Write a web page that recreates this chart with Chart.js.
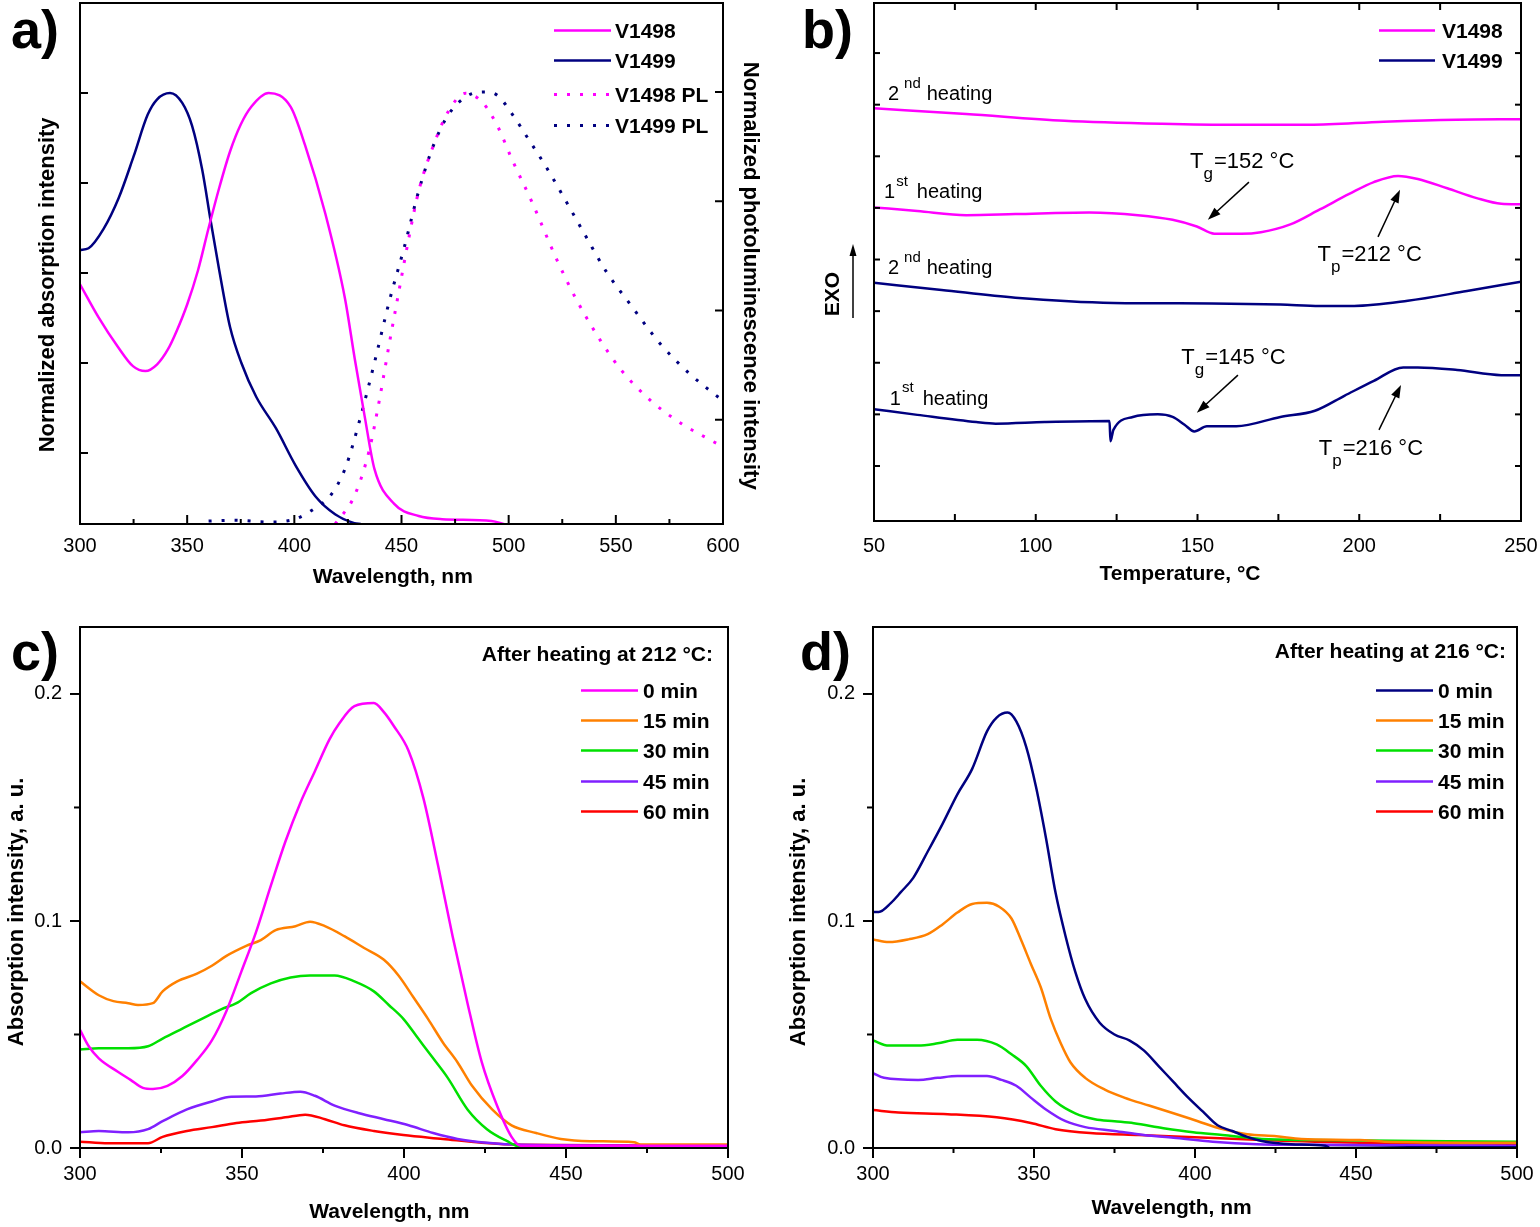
<!DOCTYPE html>
<html>
<head>
<meta charset="utf-8">
<script src="https://cdn.jsdelivr.net/npm/chart.js@4.4.1/dist/chart.umd.min.js"></script>
<style>
  html, body { margin: 0; padding: 0; background: #fff; }
  #wrap { position: relative; width: 1540px; height: 1227px; }
  canvas { position: absolute; }
</style>
</head>
<body>
<div id="wrap">
  <canvas id="pa" width="770" height="610" style="left:0;top:0"></canvas>
  <canvas id="pb" width="770" height="610" style="left:770px;top:0"></canvas>
  <canvas id="pc" width="770" height="617" style="left:0;top:610px"></canvas>
  <canvas id="pd" width="770" height="617" style="left:770px;top:610px"></canvas>
</div>
<script>
// ---- a) absorption + PL spectra (normalized) ----
const absWl1498 = [300, 308.6, 317.8, 324.7, 330.5, 336, 341, 345, 350, 355, 360, 365, 370, 375, 380, 388, 398.3, 405, 414.5, 423.6, 428.2, 432.8, 437.4, 446.6, 458, 469, 492, 498];
const abs1498   = [0.575, 0.502, 0.435, 0.393, 0.382, 0.397, 0.43, 0.47, 0.53, 0.605, 0.70, 0.79, 0.87, 0.93, 0.97, 1.0, 0.969, 0.884, 0.731, 0.544, 0.409, 0.282, 0.164, 0.087, 0.06, 0.053, 0.049, 0.042];
const absWl1499 = [300, 304, 311, 318, 325, 331.6, 336, 342, 347.7, 352.3, 357, 361, 365, 370, 375.3, 382.2, 391.4, 400.6, 409.8, 419, 428, 431];
const abs1499   = [0.651, 0.655, 0.698, 0.766, 0.859, 0.952, 0.986, 1.0, 0.978, 0.927, 0.83, 0.715, 0.605, 0.48, 0.40, 0.325, 0.255, 0.172, 0.104, 0.064, 0.044, 0.042];
const plWl1498  = [419, 428, 435, 439.6, 444.3, 448.9, 453.5, 458, 465, 472, 479.9, 488, 494.8, 501.7, 510.9, 522.4, 531.6, 543, 552.3, 566, 580, 593.6, 600];
const pl1498    = [0.011, 0.0755, 0.181, 0.293, 0.424, 0.547, 0.668, 0.773, 0.879, 0.957, 0.997, 0.975, 0.922, 0.844, 0.748, 0.617, 0.525, 0.43, 0.365, 0.295, 0.243, 0.205, 0.188];
const plWl1499  = [360, 372, 387.8, 400.6, 409.8, 416.7, 423.6, 430.5, 437.4, 444.3, 451.2, 458, 465, 472, 481, 489, 494.8, 501.7, 508.6, 517.8, 527, 536.2, 545.4, 556.9, 570.7, 584.5, 600];
const pl1499    = [0.018, 0.02, 0.016, 0.023, 0.048, 0.0755, 0.137, 0.249, 0.381, 0.521, 0.643, 0.773, 0.879, 0.949, 0.992, 1.0, 0.992, 0.949, 0.897, 0.826, 0.748, 0.668, 0.59, 0.513, 0.424, 0.355, 0.293];
const aMajor = [300, 350, 400, 450, 500, 550, 600];
const aMinor = [325, 375, 425, 475, 525, 575];
const aAbsTicks = [0.2, 0.4, 0.6, 0.8, 1.0];
const aPlTicks = [0.25, 0.5, 0.75, 1.0];

// ---- b) DSC curves (arbitrary heat-flow units) ----
const bT1498h2 = [50, 78.5, 108.9, 139, 162, 184.7, 207.5, 230, 250];
const b1498h2  = [7.93, 7.82, 7.69, 7.63, 7.61, 7.61, 7.67, 7.71, 7.72];
const bT1498h1 = [50, 63.4, 78.5, 93.7, 116.5, 131.6, 142.3, 149.8, 155.2, 163.5, 169.6, 178.7, 187.8, 196.9, 204.5, 212, 218.1, 227.2, 236.3, 243.9, 250];
const b1498h1  = [6.01, 5.94, 5.86, 5.88, 5.91, 5.86, 5.77, 5.64, 5.50, 5.50, 5.53, 5.68, 5.97, 6.27, 6.50, 6.62, 6.56, 6.38, 6.19, 6.08, 6.07];
const bT1499h2 = [50, 70.9, 93.7, 124, 154.4, 175.6, 187.8, 198.4, 215, 233.3, 250];
const b1499h2  = [4.55, 4.41, 4.26, 4.16, 4.15, 4.13, 4.10, 4.10, 4.20, 4.39, 4.57];
const bT1499h1 = [50, 63.4, 81.6, 87.6, 102.8, 122.8, 123.1, 124, 130, 137.7, 142.3, 146, 149, 152.9, 162, 175.6, 186.3, 195.4, 204.5, 213.6, 218.1, 230.3, 243.9, 250];
const b1499h1  = [2.10, 1.99, 1.85, 1.82, 1.85, 1.87, 1.48, 1.70, 1.95, 2.00, 1.95, 1.80, 1.67, 1.77, 1.77, 1.95, 2.07, 2.36, 2.65, 2.91, 2.91, 2.86, 2.76, 2.76];
const bMajor = [50, 100, 150, 200, 250];
const bMinor = [75, 125, 175, 225];
const bYTicks = [1, 2, 3, 4, 5, 6, 7, 8, 9];

// ---- c) V1498 absorption after heating at 212 °C ----
const cWl0  = [300, 302.7, 305.8, 311.8, 315.6, 319.4, 322.5, 327, 331.6, 336.1, 340.7, 345.2, 349.8, 354.3, 359, 363.4, 368, 372.5, 377, 380, 384.7, 390.7, 393.8, 396.8, 401.4, 406, 410.5, 415, 419.6, 424, 428.7, 433.2, 436, 445, 500];
const c0    = [0.052, 0.0448, 0.0395, 0.0335, 0.030, 0.0265, 0.026, 0.0274, 0.0317, 0.0387, 0.0474, 0.0604, 0.0777, 0.095, 0.116, 0.135, 0.152, 0.166, 0.18, 0.187, 0.1946, 0.196, 0.192, 0.186, 0.175, 0.154, 0.1245, 0.0933, 0.0638, 0.0378, 0.0187, 0.0049, 0.001, 0.001, 0.001];
const cWl15 = [300, 305.8, 310.3, 314.9, 317.9, 322.5, 325.5, 330, 336.1, 340.7, 345.2, 351.3, 355.8, 360.4, 366.5, 371, 375.6, 381.6, 387.7, 393.8, 398.3, 402.9, 407.4, 412, 416.5, 421, 427.2, 433.2, 440.8, 448.4, 457.5, 471, 473, 500];
const c15   = [0.0734, 0.0673, 0.0647, 0.0638, 0.063, 0.0638, 0.069, 0.0734, 0.0768, 0.0803, 0.0846, 0.089, 0.0916, 0.096, 0.0977, 0.0997, 0.0977, 0.0933, 0.0881, 0.0829, 0.076, 0.0664, 0.0569, 0.0465, 0.0378, 0.0274, 0.017, 0.01, 0.0066, 0.004, 0.003, 0.0025, 0.0015, 0.0015];
const cWl30 = [300, 305.8, 314.9, 321, 325.5, 331.6, 337.6, 343.7, 348.3, 352.8, 358.9, 365, 371, 378.6, 384.7, 390.7, 395.3, 399.8, 404.4, 409, 413.5, 419.6, 425.6, 431.7, 436.3, 500];
const c30   = [0.0434, 0.0439, 0.0439, 0.0448, 0.0482, 0.0526, 0.0569, 0.0612, 0.0638, 0.0682, 0.0725, 0.0751, 0.076, 0.076, 0.0734, 0.069, 0.063, 0.0569, 0.0482, 0.0395, 0.0309, 0.017, 0.0083, 0.0031, 0.0003, 0.0003];
const cWl45 = [300, 305.8, 314.9, 321, 325.5, 333, 340.7, 346.7, 354.3, 361.9, 368, 372.5, 378.6, 386.2, 393.8, 401.4, 409, 416.5, 425.6, 436.3, 500];
const c45   = [0.0069, 0.0075, 0.0069, 0.0083, 0.0118, 0.017, 0.0205, 0.0226, 0.0227, 0.024, 0.0248, 0.023, 0.0187, 0.0153, 0.0127, 0.01, 0.0066, 0.004, 0.0023, 0.0014, 0.0009];
const cWl60 = [300, 308.8, 321, 325.5, 333, 340.7, 348.3, 355.8, 363.4, 369.5, 375.6, 381.6, 390.7, 399.8, 412, 424, 436.3, 500];
const c60   = [0.0028, 0.0021, 0.0021, 0.0049, 0.0075, 0.0092, 0.011, 0.0121, 0.0135, 0.0147, 0.0127, 0.01, 0.0075, 0.0057, 0.004, 0.0023, 0.0014, 0.001];

// ---- d) V1499 absorption after heating at 216 °C ----
const dWl0  = [300, 301.8, 305.6, 308.7, 312.5, 317, 321.6, 326.2, 330.8, 335.4, 338.4, 341.8, 344.5, 347.6, 350.6, 353.7, 356.7, 359.8, 362.8, 365.9, 370.4, 375, 379.6, 384.1, 388.7, 393.3, 397.9, 402.4, 407, 411.6, 416.2, 420.7, 429.9, 440.5, 442, 466.5, 500];
const d0    = [0.104, 0.104, 0.108, 0.1128, 0.119, 0.1306, 0.1428, 0.1558, 0.167, 0.1835, 0.1896, 0.1918, 0.1879, 0.1766, 0.1592, 0.1367, 0.1124, 0.0933, 0.0777, 0.0656, 0.0552, 0.05, 0.0474, 0.043, 0.0361, 0.0291, 0.0222, 0.0161, 0.01, 0.0075, 0.0049, 0.0031, 0.0017, 0.001, 0.0, 0.0003, 0.0003];
const dWl15 = [300, 304.9, 311, 317, 321.6, 326.2, 330.8, 335.4, 339.2, 343, 346, 349, 352.1, 355.2, 358.2, 361.3, 365.9, 372, 378, 385.7, 393.3, 400.9, 408.5, 416.2, 425.3, 433, 451.2, 458.8, 500];
const d15   = [0.0919, 0.0907, 0.0919, 0.0942, 0.0985, 0.1037, 0.1075, 0.108, 0.1063, 0.1011, 0.0916, 0.0812, 0.0708, 0.0569, 0.0465, 0.0378, 0.0309, 0.0257, 0.0222, 0.0187, 0.0153, 0.0118, 0.0083, 0.0061, 0.0052, 0.004, 0.0035, 0.0028, 0.0023];
const dWl30 = [300, 304.9, 314, 320.1, 326.2, 332.3, 338.4, 343, 347.6, 352.1, 356.7, 362.8, 368.9, 375, 381, 390.2, 399.4, 408.5, 420.7, 436, 500];
const d30   = [0.0474, 0.0451, 0.0451, 0.0461, 0.0477, 0.0477, 0.0456, 0.0413, 0.0361, 0.0274, 0.0205, 0.0153, 0.0127, 0.0118, 0.0109, 0.0087, 0.0069, 0.0057, 0.004, 0.0035, 0.0028];
const dWl45 = [300, 303.4, 314, 320.1, 326.2, 335.4, 339.9, 344.5, 349, 353.7, 359.8, 365.9, 375, 384.1, 393.3, 405.5, 419.2, 436, 500];
const d45   = [0.033, 0.0309, 0.03, 0.0309, 0.0317, 0.0317, 0.03, 0.0274, 0.0222, 0.017, 0.0118, 0.0092, 0.0075, 0.0057, 0.0045, 0.0028, 0.0017, 0.0014, 0.001];
const dWl60 = [300, 307.9, 323.2, 338.4, 349, 356.7, 367.4, 382.6, 397.9, 420.7, 451.2, 500];
const d60   = [0.0167, 0.0156, 0.0149, 0.0135, 0.011, 0.0083, 0.0066, 0.0057, 0.0049, 0.0035, 0.0023, 0.0019];
const cdMajor = [300, 350, 400, 450, 500];
const cdMinor = [325, 375, 425, 475];
const cdYMajor = [0, 0.1, 0.2];
const cdYMinor = [0.05, 0.15];

const FONT = '"Liberation Sans", Arial, Helvetica, sans-serif';
Chart.defaults.font.family = FONT;
Chart.defaults.color = '#000';

const MAGENTA = '#ff00ff', NAVY = '#000080', ORANGE = '#ff8000', GREEN = '#00e000', PURPLE = '#8020ff', RED = '#ff0000';

function pts(xs, ys) { return xs.map((x, i) => ({ x: x, y: ys[i] })); }

function series(label, xs, ys, color, extra) {
  return Object.assign({
    label: label, data: pts(xs, ys), borderColor: color, backgroundColor: color,
    borderWidth: 2.5, pointRadius: 0, fill: false, cubicInterpolationMode: 'monotone'
  }, extra || {});
}

// Origin centres axis titles a bit off the plot centre; nudge with blank padding
const lead = (n, t) => ' '.repeat(n) + t;
const trail = (t, n) => t + ' '.repeat(n);

// fixed axis box sizes so the plot areas land where the figure has them
const fixH = h => s => { s.height = h; s.paddingLeft = 0; s.paddingRight = 0; };
const fixW = w => s => { s.width = w; s.paddingTop = 0; s.paddingBottom = 0; };

// superscript / subscript text
function rich(ctx, x, y, parts, size) {
  const small = Math.round(size * 0.75);
  parts.forEach(([txt, kind, gap]) => {
    x += gap || 0;
    ctx.font = (kind === 'n' ? size : small) + 'px ' + FONT;
    const dy = kind === 'sup' ? -0.62 * size : kind === 'sub' ? 0.5 * size : 0;
    ctx.fillText(txt, x, y + dy);
    x += ctx.measureText(txt).width;
  });
}

function arrow(ctx, x1, y1, x2, y2, L, W) {
  const ang = Math.atan2(y2 - y1, x2 - x1), c = Math.cos(ang), s = Math.sin(ang);
  ctx.beginPath(); ctx.moveTo(x1, y1); ctx.lineTo(x2 - L * 0.8 * c, y2 - L * 0.8 * s); ctx.stroke();
  ctx.beginPath(); ctx.moveTo(x2, y2);
  ctx.lineTo(x2 - L * c + W * s, y2 - L * s - W * c);
  ctx.lineTo(x2 - L * c - W * s, y2 - L * s + W * c);
  ctx.closePath(); ctx.fill();
}

// frame, inward/outward ticks, legend, panel letter and notes
const decor = {
  id: 'decor',
  afterDraw(chart, args, o) {
    const ctx = chart.ctx, a = chart.chartArea;
    ctx.save();
    ctx.strokeStyle = '#000'; ctx.fillStyle = '#000'; ctx.lineWidth = 2;
    ctx.strokeRect(a.left, a.top, a.right - a.left, a.bottom - a.top);
    (o.ticks || []).forEach(t => {
      const s = chart.scales[t.scale], k = t.dir === 'in' ? 1 : -1;
      const mark = (vals, len) => vals.forEach(v => {
        const p = s.getPixelForValue(v);
        ctx.beginPath();
        if (t.side === 'bottom') { ctx.moveTo(p, a.bottom); ctx.lineTo(p, a.bottom - k * len); }
        else if (t.side === 'top') { ctx.moveTo(p, a.top); ctx.lineTo(p, a.top + k * len); }
        else if (t.side === 'left') { ctx.moveTo(a.left, p); ctx.lineTo(a.left + k * len, p); }
        else { ctx.moveTo(a.right, p); ctx.lineTo(a.right - k * len, p); }
        ctx.stroke();
      });
      mark(t.major, t.len);
      mark(t.minor || [], t.minorLen);
    });

    const lg = o.legend;
    if (lg) {
      ctx.font = 'bold 21px ' + FONT; ctx.textBaseline = 'alphabetic';
      if (lg.title) { ctx.textAlign = 'right'; ctx.fillText(lg.title, lg.titleX, lg.titleY); }
      ctx.textAlign = 'left';
      (lg.items || chart.data.datasets.map((d, i) => i)).forEach((di, r) => {
        const d = chart.data.datasets[di], y = lg.rows[r];
        ctx.strokeStyle = d.borderColor; ctx.lineWidth = d.borderWidth;
        ctx.setLineDash(d.borderDash || []);
        ctx.beginPath(); ctx.moveTo(lg.x1, y - 7.5); ctx.lineTo(lg.x2, y - 7.5); ctx.stroke();
        ctx.setLineDash([]);
        ctx.fillText(d.label, lg.textX, y);
      });
    }

    ctx.strokeStyle = '#000'; ctx.lineWidth = 1.5; ctx.textAlign = 'left'; ctx.textBaseline = 'alphabetic';
    ctx.font = 'bold 54px ' + FONT;
    ctx.fillText(o.tag, o.tagX, o.tagY);

    const sx = chart.scales.x, sy = chart.scales.y;
    (o.notes || []).forEach(n => rich(ctx, sx.getPixelForValue(n.x), sy.getPixelForValue(n.y), n.parts, n.size));
    (o.arrows || []).forEach(r => arrow(ctx, sx.getPixelForValue(r[0]), sy.getPixelForValue(r[1]),
      sx.getPixelForValue(r[2]), sy.getPixelForValue(r[3]), 13, 4.5));
    if (o.exo) {
      ctx.save(); ctx.translate(o.exo.x, o.exo.y); ctx.rotate(-Math.PI / 2);
      ctx.font = 'bold 21px ' + FONT; ctx.textAlign = 'center'; ctx.textBaseline = 'middle';
      ctx.fillText('EXO', 0, 0); ctx.restore();
      const e = o.exo.arrow; ctx.lineWidth = 1.5;
      arrow(ctx, e[0], e[1], e[2], e[3], 12, 3.5);
    }
    ctx.restore();
  }
};

const tickFont = { size: 20 };
const xTitleFont = { size: 21, weight: 'bold' };
const yTitleFont = { size: 22, weight: 'bold' };
const noGrid = { display: false, drawTicks: false };
const noBorder = { display: false };
const common = {
  responsive: false, animation: false, devicePixelRatio: 1, events: [],
  plugins: { legend: { display: false }, tooltip: { enabled: false } }
};

function opts(layoutPad, scales, decorOpts) {
  return Object.assign({}, common, {
    layout: { padding: layoutPad },
    scales: scales,
    plugins: Object.assign({}, common.plugins, { decor: decorOpts })
  });
}

const HEAT2 = [['2', 'n', 0], ['nd', 'sup', 5], ['heating', 'n', 6]];
const HEAT1 = [['1', 'n', 0], ['st', 'sup', 1], ['heating', 'n', 9]];

// a)
new Chart(document.getElementById('pa'), {
  type: 'line',
  data: { datasets: [
    series('V1498', absWl1498, abs1498, MAGENTA),
    series('V1499', absWl1499, abs1499, NAVY),
    series('V1498 PL', plWl1498, pl1498, MAGENTA, { borderDash: [3, 10], borderWidth: 3, yAxisID: 'y2' }),
    series('V1499 PL', plWl1499, pl1499, NAVY, { borderDash: [3, 10], borderWidth: 3, yAxisID: 'y2' })
  ] },
  options: opts({ top: 3, left: 0, right: 0, bottom: 0 }, {
    x: { type: 'linear', min: 300, max: 600, afterFit: fixH(86),
         ticks: { stepSize: 50, padding: 10, font: tickFont }, grid: noGrid, border: noBorder,
         title: { display: true, text: trail('Wavelength, nm', 3), font: xTitleFont, padding: { top: 0, bottom: 20 } } },
    y: { min: 0.0422, max: 1.2, afterFit: fixW(80),
         ticks: { display: false }, grid: noGrid, border: noBorder,
         title: { display: true, text: trail('Normalized absorption intensity', 7), font: yTitleFont, padding: { top: 35, bottom: 0 } } },
    y2: { position: 'right', min: 0.0114, max: 1.2037, afterFit: fixW(47),
          ticks: { display: false }, grid: noGrid, border: noBorder,
          title: { display: true, text: lead(4, 'Normalized photoluminescence intensity'), font: yTitleFont, padding: { top: 7, bottom: 0 } } }
  }, {
    tag: 'a)', tagX: 11, tagY: 48,
    ticks: [
      { scale: 'x', side: 'bottom', dir: 'in', major: aMajor, minor: aMinor, len: 9, minorLen: 5 },
      { scale: 'y', side: 'left', dir: 'in', major: aAbsTicks, len: 8 },
      { scale: 'y2', side: 'right', dir: 'in', major: aPlTicks, len: 8 }
    ],
    legend: { x1: 554, x2: 611, textX: 615, rows: [38, 68, 102, 133] }
  }),
  plugins: [decor]
});

// b)
new Chart(document.getElementById('pb'), {
  type: 'line',
  data: { datasets: [
    series('V1498', bT1498h2, b1498h2, MAGENTA),
    series('V1498', bT1498h1, b1498h1, MAGENTA),
    series('V1499', bT1499h2, b1499h2, NAVY),
    series('V1499', bT1499h1, b1499h1, NAVY)
  ] },
  options: opts({ top: 3, left: 0, right: 19, bottom: 0 }, {
    x: { type: 'linear', min: 50, max: 250, afterFit: fixH(89),
         ticks: { stepSize: 50, padding: 13, font: tickFont }, grid: noGrid, border: noBorder,
         title: { display: true, text: trail('Temperature, °C', 6), font: xTitleFont, padding: { top: 0, bottom: 23 } } },
    y: { min: -0.066, max: 9.97, afterFit: fixW(104),
         ticks: { display: false }, grid: noGrid, border: noBorder, title: { display: false } }
  }, {
    tag: 'b)', tagX: 32, tagY: 48,
    ticks: [
      { scale: 'x', side: 'bottom', dir: 'in', major: bMajor, minor: bMinor, len: 7, minorLen: 7 },
      { scale: 'x', side: 'top', dir: 'in', major: bMajor, minor: bMinor, len: 7, minorLen: 7 },
      { scale: 'y', side: 'left', dir: 'in', major: bYTicks, len: 6 },
      { scale: 'y', side: 'right', dir: 'in', major: bYTicks, len: 6 }
    ],
    legend: { x1: 609, x2: 665, textX: 672, rows: [38, 68], items: [0, 2] },
    notes: [
      { x: 54.3, y: 8.09, parts: HEAT2, size: 20 },
      { x: 53.1, y: 6.19, parts: HEAT1, size: 20 },
      { x: 54.3, y: 4.72, parts: HEAT2, size: 20 },
      { x: 54.9, y: 2.19, parts: HEAT1, size: 20 },
      { x: 147.7, y: 6.78, parts: [['T', 'n', 0], ['g', 'sub', 0], ['=152 °C', 'n', 1]], size: 22 },
      { x: 187.1, y: 4.98, parts: [['T', 'n', 0], ['p', 'sub', 0], ['=212 °C', 'n', 1]], size: 22 },
      { x: 145.0, y: 2.98, parts: [['T', 'n', 0], ['g', 'sub', 0], ['=145 °C', 'n', 1]], size: 22 },
      { x: 187.5, y: 1.21, parts: [['T', 'n', 0], ['p', 'sub', 0], ['=216 °C', 'n', 1]], size: 22 }
    ],
    arrows: [
      [165.9, 6.50, 153.2, 5.77],
      [205.8, 5.44, 212.6, 6.35],
      [162.5, 2.76, 149.8, 2.03],
      [206.1, 1.70, 212.9, 2.57]
    ],
    exo: { x: 63, y: 294, arrow: [83, 318, 83, 244] }
  }),
  plugins: [decor]
});

function spectraChart(id, tag, tagX, yWidth, padRight, xTitle, xTitlePad, yTitlePad, sets, lg) {
  return new Chart(document.getElementById(id), {
    type: 'line',
    data: { datasets: sets },
    options: opts({ top: 17, left: 0, right: padRight, bottom: 0 }, {
      x: { type: 'linear', min: 300, max: 500, afterFit: fixH(79),
           ticks: { stepSize: 50, padding: 14, font: tickFont }, grid: noGrid, border: noBorder,
           title: { display: true, text: xTitle, font: xTitleFont, padding: { top: 0, bottom: xTitlePad } } },
      y: { min: 0, max: 0.2295, afterFit: fixW(yWidth),
           ticks: { stepSize: 0.1, includeBounds: false, padding: 18, font: tickFont, callback: v => v.toFixed(1) },
           grid: noGrid, border: noBorder,
           title: { display: true, text: trail('Absorption intensity, a. u.', 8), font: yTitleFont, padding: { top: yTitlePad, bottom: 0 } } }
    }, {
      tag: tag, tagX: tagX, tagY: 60,
      ticks: [
        { scale: 'x', side: 'bottom', dir: 'out', major: cdMajor, minor: cdMinor, len: 10, minorLen: 5 },
        { scale: 'y', side: 'left', dir: 'out', major: cdYMajor, minor: cdYMinor, len: 10, minorLen: 6 }
      ],
      legend: lg
    }),
    plugins: [decor]
  });
}

// c)
spectraChart('pc', 'c)', 11, 80, 42, trail('Wavelength, nm', 5), 2, 4, [
  series('0 min', cWl0, c0, MAGENTA),
  series('15 min', cWl15, c15, ORANGE),
  series('30 min', cWl30, c30, GREEN),
  series('45 min', cWl45, c45, PURPLE),
  series('60 min', cWl60, c60, RED)
], { title: 'After heating at 212 °C:', titleX: 713, titleY: 51, x1: 581, x2: 638, textX: 643, rows: [88, 118, 148, 179, 209] });

// d)
spectraChart('pd', 'd)', 30, 103, 23, trail('Wavelength, nm', 8), 6, 16, [
  series('0 min', dWl0, d0, NAVY),
  series('15 min', dWl15, d15, ORANGE),
  series('30 min', dWl30, d30, GREEN),
  series('45 min', dWl45, d45, PURPLE),
  series('60 min', dWl60, d60, RED)
], { title: 'After heating at 216 °C:', titleX: 736, titleY: 48, x1: 606, x2: 663, textX: 668, rows: [88, 118, 148, 179, 209] });
</script>
</body>
</html>
